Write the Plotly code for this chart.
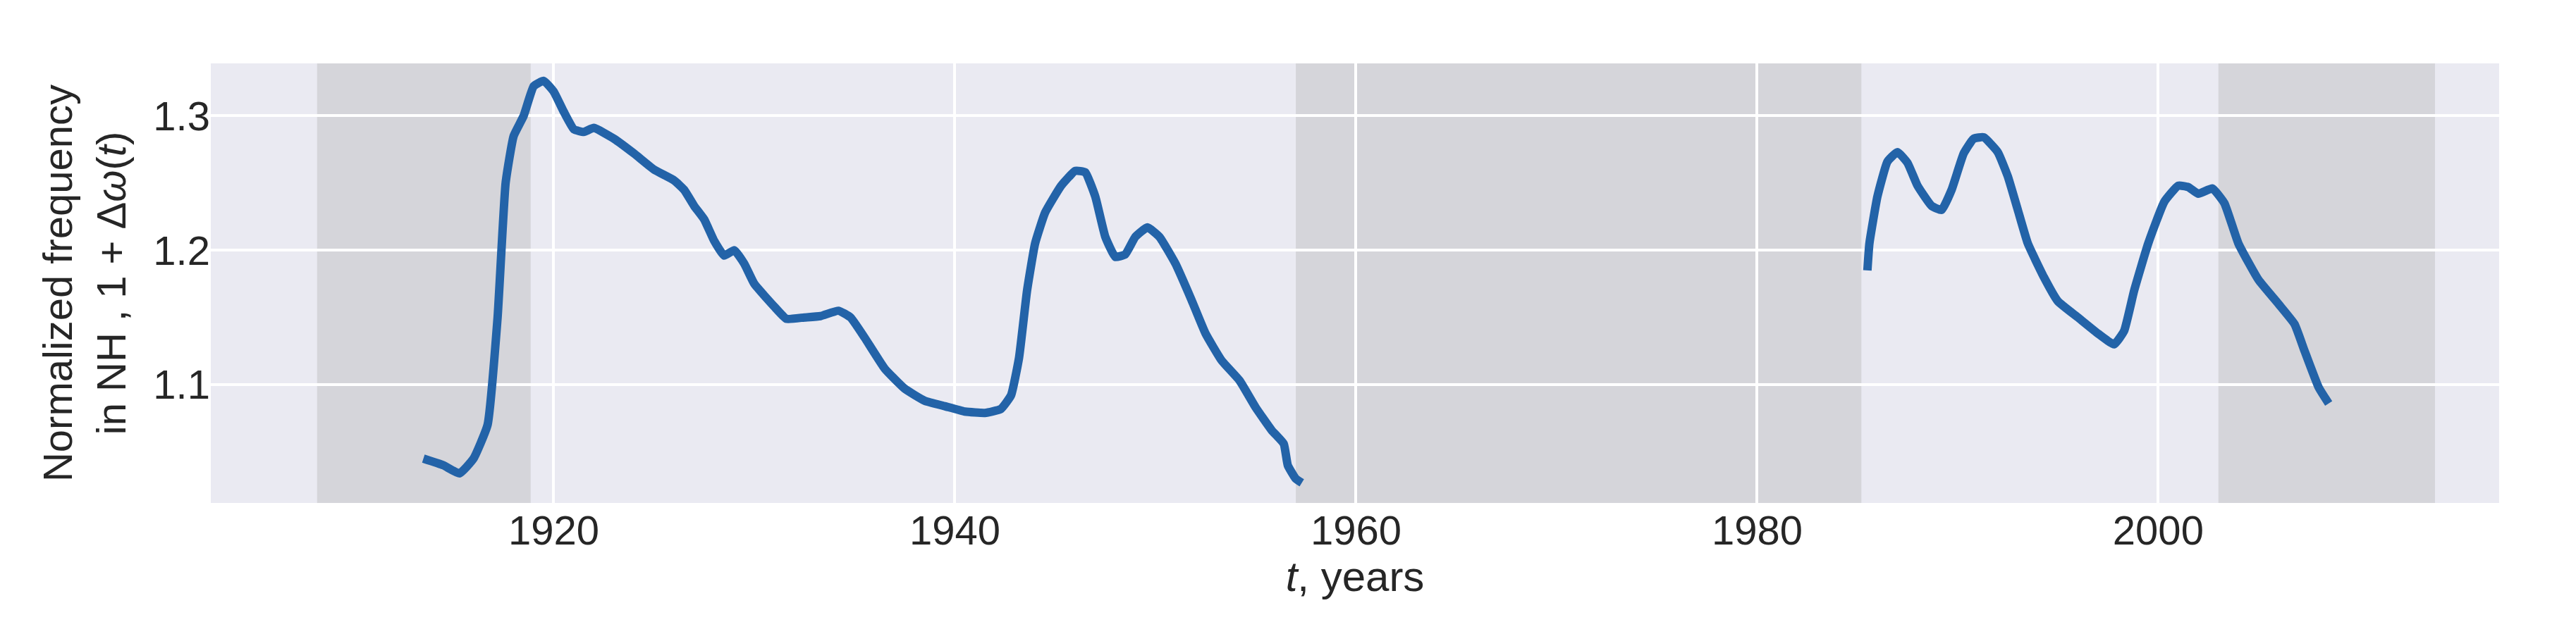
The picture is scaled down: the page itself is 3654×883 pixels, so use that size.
import plotly.graph_objects as go

# Normalized frequency readings (two separate record segments)
years_a = [1913.5, 1914.5, 1915.3, 1916, 1916.7, 1917.2, 1917.6, 1918, 1918.5, 1919, 1919.5, 1920,
           1920.5, 1921, 1921.5, 1922, 1923, 1924, 1925, 1926, 1926.5, 1927, 1927.5, 1928, 1928.5,
           1929, 1929.5, 1930, 1931, 1931.6, 1932.5, 1933.3, 1934.2, 1934.8, 1935.5, 1936.5, 1937.5,
           1938.5, 1939.5, 1940.5, 1941.5, 1942.3, 1942.8, 1943.2, 1943.6, 1944, 1944.5, 1945.3,
           1946, 1946.5, 1947, 1947.5, 1948, 1948.5, 1949, 1949.6, 1950.2, 1951, 1951.8, 1952.5,
           1953.3, 1954.2, 1955, 1955.8, 1956.4, 1956.6, 1957, 1957.3]
freq_a = [1.045, 1.040, 1.034, 1.045, 1.07, 1.15, 1.25, 1.285, 1.30, 1.322, 1.326, 1.318,
          1.303, 1.29, 1.288, 1.291, 1.283, 1.272, 1.260, 1.252, 1.245, 1.233, 1.223, 1.207, 1.196,
          1.200, 1.19, 1.175, 1.158, 1.149, 1.150, 1.151, 1.155, 1.150, 1.135, 1.112, 1.097,
          1.088, 1.084, 1.080, 1.079, 1.082, 1.092, 1.12, 1.17, 1.205, 1.228, 1.248,
          1.259, 1.258, 1.24, 1.21, 1.195, 1.197, 1.21, 1.217, 1.21, 1.19, 1.163, 1.138,
          1.118, 1.103, 1.083, 1.066, 1.056, 1.04, 1.030, 1.027]

years_b = [1985.5, 1985.6, 1986, 1986.5, 1987, 1987.5, 1988, 1988.7, 1989.2, 1989.7, 1990.3, 1990.8,
           1991.3, 1992, 1992.5, 1993, 1993.5, 1994.3, 1995, 1996, 1997, 1997.8, 1998.3, 1998.8,
           1999.5, 2000.3, 2001, 2001.5, 2002, 2002.7, 2003.3, 2004, 2005, 2006, 2006.8, 2007.3,
           2008, 2008.5]
freq_b = [1.185, 1.205, 1.24, 1.266, 1.273, 1.265, 1.248, 1.233, 1.23, 1.245, 1.272, 1.283,
          1.284, 1.273, 1.255, 1.230, 1.205, 1.180, 1.162, 1.150, 1.138, 1.130, 1.140, 1.17,
          1.205, 1.236, 1.248, 1.247, 1.242, 1.246, 1.235, 1.205, 1.178, 1.160, 1.145, 1.125,
          1.098, 1.086]

# shaded periods (start, end)
periods = [(1908.2, 1918.85), (1957.0, 1985.2), (2003.0, 2013.8)]

x_ticks = [1920, 1940, 1960, 1980, 2000]
y_ticks = [1.1, 1.2, 1.3]

line_color = "#2363a8"
fig = go.Figure()
for xs, ys in [(years_a, freq_a), (years_b, freq_b)]:
    fig.add_trace(go.Scatter(x=xs, y=ys, mode="lines", showlegend=False,
                             line=dict(color=line_color, width=12, shape="spline", smoothing=0.4)))

for x0, x1 in periods:
    fig.add_vrect(x0=x0, x1=x1, fillcolor="#d5d5da", opacity=1, line_width=0, layer="below")

font = dict(family="Liberation Sans, Arial", size=58, color="#262626")
fig.update_layout(
    width=3654, height=883,
    plot_bgcolor="#eaeaf2", paper_bgcolor="white",
    margin=dict(l=291, r=117, t=82, b=177),
    font=font,
)
fig.update_xaxes(range=[1902.9, 2017.0], tickvals=x_ticks, showgrid=True, gridcolor="white",
                 gridwidth=4, zeroline=False, ticks="", ticklen=0,
                 title=dict(text="<i>t</i>, years", font=dict(size=60), standoff=8))
fig.update_yaxes(range=[1.012, 1.339], tickvals=y_ticks, showgrid=True, gridcolor="white",
                 gridwidth=4, zeroline=False, ticks="",
                 title=dict(text="Normalized frequency<br>in NH , 1 + Δ<i>ω</i>(<i>t</i>)",
                            font=dict(size=58), standoff=20))

fig.write_html("out.html")
